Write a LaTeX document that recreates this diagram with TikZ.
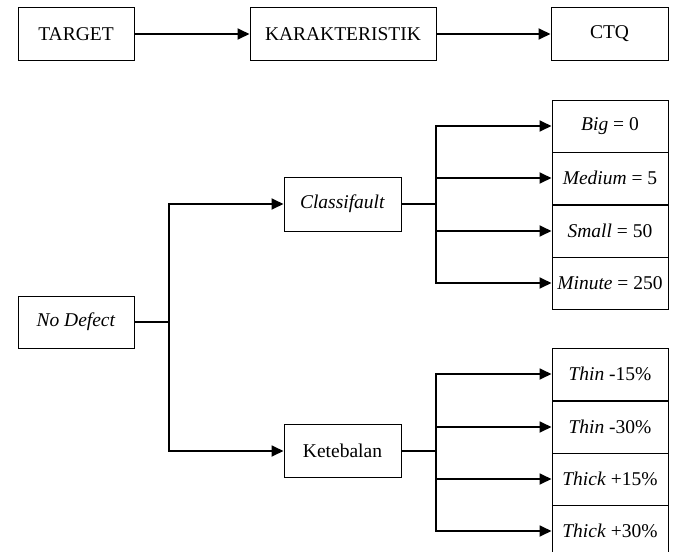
\documentclass[tikz,border=0pt]{standalone}
\usepackage{fontspec}
\setmainfont{Liberation Serif}
\usetikzlibrary{arrows.meta}
\begin{document}
\begin{tikzpicture}[x=1pt,y=-1pt,
  box/.style={draw, line width=1pt, rectangle, inner sep=0pt, align=center,
    font=\fontsize{19.5}{23}\selectfont},
  topbox/.style={box, minimum height=53pt},
  leafbox/.style={box, minimum width=116pt, minimum height=52pt},
  midbox/.style={box, minimum width=117pt, minimum height=53pt},
  link/.style={line width=1.8pt},
  arr/.style={link, -{Triangle[length=12pt,width=11pt]}}]
\useasboundingbox (0,0) rectangle (673,552);
\clip (0,0) rectangle (673,552);

% top row
\node[topbox, minimum width=116pt] (target) at (76,34) {TARGET};
\node[topbox, minimum width=186pt] (karak) at (343,34) {KARAKTERISTIK};
\node[topbox, minimum width=117pt] (ctq) at (609.5,34) {CTQ};
\draw[arr] (target) -- (karak);
\draw[arr] (karak) -- (ctq);

% tree
\node[box, minimum width=116pt, minimum height=52pt] (nodef) at (76,322) {\textit{No Defect}};
\node[midbox, minimum height=54pt] (classi) at (342.5,204) {\textit{Classifault}};
\node[midbox] (keteb) at (342.5,451) {Ketebalan};

\node[leafbox] (big) at (610,126) {\textit{Big} = 0};
\node[leafbox] (medium) at (610,178) {\textit{Medium} = 5};
\node[leafbox] (small) at (610,231) {\textit{Small} = 50};
\node[leafbox] (minute) at (610,283) {\textit{Minute} = 250};

\node[leafbox] (thinA) at (610,374) {\textit{Thin} -15\%};
\node[leafbox] (thinB) at (610,427) {\textit{Thin} -30\%};
\node[leafbox] (thickA) at (610,479) {\textit{Thick} +15\%};
\node[leafbox] (thickB) at (610,531) {\textit{Thick} +30\%};

% junction points
\coordinate (j1) at (169,322);
\coordinate (j2) at (436,204);
\coordinate (j3) at (436,451);

\draw[link] (nodef) -- (j1);
\draw[arr] (j1) |- (classi);
\draw[arr] (j1) |- (keteb);

\draw[link] (classi) -- (j2);
\foreach \n in {big,medium,small,minute}
  \draw[arr] (j2) |- (\n.west);

\draw[link] (keteb) -- (j3);
\foreach \n in {thinA,thinB,thickA,thickB}
  \draw[arr] (j3) |- (\n.west);
\end{tikzpicture}
\end{document}
